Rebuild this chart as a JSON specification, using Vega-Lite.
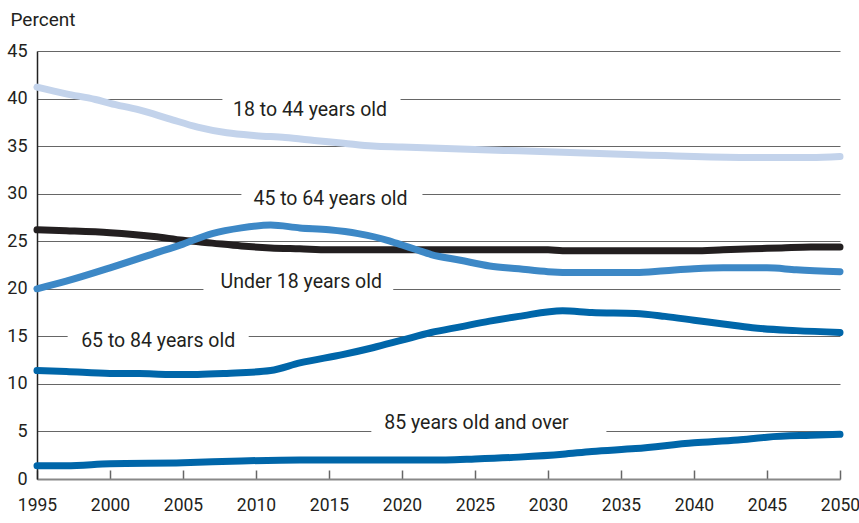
{
  "$schema": "https://vega.github.io/schema/vega-lite/v6.json",
  "width": 803,
  "height": 428,
  "autosize": {"type": "none"},
  "padding": {"left": 37, "top": 51, "right": 19, "bottom": 44},
  "background": "white",
  "config": {
    "view": {"stroke": null},
    "font": "Roboto, sans-serif"
  },
  "datasets": {
    "series": [
      {"year": 1995, "group": "18 to 44 years old", "value": 41.2},
      {"year": 1997, "group": "18 to 44 years old", "value": 40.5},
      {"year": 1999, "group": "18 to 44 years old", "value": 39.9},
      {"year": 2000, "group": "18 to 44 years old", "value": 39.5},
      {"year": 2002, "group": "18 to 44 years old", "value": 38.8},
      {"year": 2004, "group": "18 to 44 years old", "value": 37.9},
      {"year": 2006, "group": "18 to 44 years old", "value": 37.0},
      {"year": 2008, "group": "18 to 44 years old", "value": 36.4},
      {"year": 2010, "group": "18 to 44 years old", "value": 36.1},
      {"year": 2012, "group": "18 to 44 years old", "value": 35.9},
      {"year": 2014, "group": "18 to 44 years old", "value": 35.6},
      {"year": 2016, "group": "18 to 44 years old", "value": 35.3},
      {"year": 2018, "group": "18 to 44 years old", "value": 35.0},
      {"year": 2020, "group": "18 to 44 years old", "value": 34.9},
      {"year": 2022, "group": "18 to 44 years old", "value": 34.8},
      {"year": 2024, "group": "18 to 44 years old", "value": 34.7},
      {"year": 2026, "group": "18 to 44 years old", "value": 34.6},
      {"year": 2028, "group": "18 to 44 years old", "value": 34.5},
      {"year": 2030, "group": "18 to 44 years old", "value": 34.4},
      {"year": 2032, "group": "18 to 44 years old", "value": 34.3},
      {"year": 2034, "group": "18 to 44 years old", "value": 34.2},
      {"year": 2036, "group": "18 to 44 years old", "value": 34.1},
      {"year": 2038, "group": "18 to 44 years old", "value": 34.0},
      {"year": 2040, "group": "18 to 44 years old", "value": 33.9},
      {"year": 2044, "group": "18 to 44 years old", "value": 33.8},
      {"year": 2048, "group": "18 to 44 years old", "value": 33.8},
      {"year": 2050, "group": "18 to 44 years old", "value": 33.9},

      {"year": 1995, "group": "45 to 64 years old", "value": 26.2},
      {"year": 1997, "group": "45 to 64 years old", "value": 26.1},
      {"year": 2000, "group": "45 to 64 years old", "value": 25.9},
      {"year": 2003, "group": "45 to 64 years old", "value": 25.5},
      {"year": 2005, "group": "45 to 64 years old", "value": 25.1},
      {"year": 2007, "group": "45 to 64 years old", "value": 24.8},
      {"year": 2009, "group": "45 to 64 years old", "value": 24.5},
      {"year": 2011, "group": "45 to 64 years old", "value": 24.3},
      {"year": 2013, "group": "45 to 64 years old", "value": 24.2},
      {"year": 2015, "group": "45 to 64 years old", "value": 24.1},
      {"year": 2020, "group": "45 to 64 years old", "value": 24.1},
      {"year": 2025, "group": "45 to 64 years old", "value": 24.1},
      {"year": 2030, "group": "45 to 64 years old", "value": 24.1},
      {"year": 2031, "group": "45 to 64 years old", "value": 24.0},
      {"year": 2040, "group": "45 to 64 years old", "value": 24.0},
      {"year": 2042, "group": "45 to 64 years old", "value": 24.1},
      {"year": 2044, "group": "45 to 64 years old", "value": 24.2},
      {"year": 2046, "group": "45 to 64 years old", "value": 24.3},
      {"year": 2048, "group": "45 to 64 years old", "value": 24.4},
      {"year": 2050, "group": "45 to 64 years old", "value": 24.4},

      {"year": 1995, "group": "Under 18 years old", "value": 20.0},
      {"year": 1997, "group": "Under 18 years old", "value": 20.8},
      {"year": 2000, "group": "Under 18 years old", "value": 22.2},
      {"year": 2003, "group": "Under 18 years old", "value": 23.7},
      {"year": 2005, "group": "Under 18 years old", "value": 24.7},
      {"year": 2007, "group": "Under 18 years old", "value": 25.8},
      {"year": 2009, "group": "Under 18 years old", "value": 26.4},
      {"year": 2011, "group": "Under 18 years old", "value": 26.7},
      {"year": 2013, "group": "Under 18 years old", "value": 26.4},
      {"year": 2015, "group": "Under 18 years old", "value": 26.2},
      {"year": 2017, "group": "Under 18 years old", "value": 25.8},
      {"year": 2019, "group": "Under 18 years old", "value": 25.1},
      {"year": 2020, "group": "Under 18 years old", "value": 24.6},
      {"year": 2021, "group": "Under 18 years old", "value": 24.1},
      {"year": 2022, "group": "Under 18 years old", "value": 23.6},
      {"year": 2024, "group": "Under 18 years old", "value": 23.0},
      {"year": 2026, "group": "Under 18 years old", "value": 22.4},
      {"year": 2028, "group": "Under 18 years old", "value": 22.1},
      {"year": 2030, "group": "Under 18 years old", "value": 21.8},
      {"year": 2032, "group": "Under 18 years old", "value": 21.7},
      {"year": 2036, "group": "Under 18 years old", "value": 21.7},
      {"year": 2038, "group": "Under 18 years old", "value": 21.9},
      {"year": 2040, "group": "Under 18 years old", "value": 22.1},
      {"year": 2042, "group": "Under 18 years old", "value": 22.2},
      {"year": 2045, "group": "Under 18 years old", "value": 22.2},
      {"year": 2047, "group": "Under 18 years old", "value": 22.0},
      {"year": 2050, "group": "Under 18 years old", "value": 21.8},

      {"year": 1995, "group": "65 to 84 years old", "value": 11.4},
      {"year": 1997, "group": "65 to 84 years old", "value": 11.3},
      {"year": 2000, "group": "65 to 84 years old", "value": 11.1},
      {"year": 2002, "group": "65 to 84 years old", "value": 11.1},
      {"year": 2004, "group": "65 to 84 years old", "value": 11.0},
      {"year": 2006, "group": "65 to 84 years old", "value": 11.0},
      {"year": 2008, "group": "65 to 84 years old", "value": 11.1},
      {"year": 2011, "group": "65 to 84 years old", "value": 11.4},
      {"year": 2013, "group": "65 to 84 years old", "value": 12.2},
      {"year": 2016, "group": "65 to 84 years old", "value": 13.1},
      {"year": 2018, "group": "65 to 84 years old", "value": 13.8},
      {"year": 2020, "group": "65 to 84 years old", "value": 14.6},
      {"year": 2022, "group": "65 to 84 years old", "value": 15.4},
      {"year": 2024, "group": "65 to 84 years old", "value": 16.0},
      {"year": 2026, "group": "65 to 84 years old", "value": 16.6},
      {"year": 2028, "group": "65 to 84 years old", "value": 17.1},
      {"year": 2031, "group": "65 to 84 years old", "value": 17.7},
      {"year": 2033, "group": "65 to 84 years old", "value": 17.5},
      {"year": 2036, "group": "65 to 84 years old", "value": 17.4},
      {"year": 2038, "group": "65 to 84 years old", "value": 17.1},
      {"year": 2040, "group": "65 to 84 years old", "value": 16.7},
      {"year": 2042, "group": "65 to 84 years old", "value": 16.3},
      {"year": 2044, "group": "65 to 84 years old", "value": 15.9},
      {"year": 2047, "group": "65 to 84 years old", "value": 15.6},
      {"year": 2050, "group": "65 to 84 years old", "value": 15.4},

      {"year": 1995, "group": "85 years old and over", "value": 1.4},
      {"year": 1997, "group": "85 years old and over", "value": 1.4},
      {"year": 2000, "group": "85 years old and over", "value": 1.6},
      {"year": 2005, "group": "85 years old and over", "value": 1.7},
      {"year": 2009, "group": "85 years old and over", "value": 1.9},
      {"year": 2013, "group": "85 years old and over", "value": 2.0},
      {"year": 2020, "group": "85 years old and over", "value": 2.0},
      {"year": 2023, "group": "85 years old and over", "value": 2.0},
      {"year": 2025, "group": "85 years old and over", "value": 2.1},
      {"year": 2028, "group": "85 years old and over", "value": 2.3},
      {"year": 2031, "group": "85 years old and over", "value": 2.6},
      {"year": 2033, "group": "85 years old and over", "value": 2.9},
      {"year": 2036, "group": "85 years old and over", "value": 3.2},
      {"year": 2040, "group": "85 years old and over", "value": 3.8},
      {"year": 2043, "group": "85 years old and over", "value": 4.1},
      {"year": 2045, "group": "85 years old and over", "value": 4.4},
      {"year": 2048, "group": "85 years old and over", "value": 4.6},
      {"year": 2050, "group": "85 years old and over", "value": 4.7}
    ],
    "labels": [
      {"label": "18 to 44 years old", "year": 2013.7, "value": 38.75, "grid": 40, "gapFrom": 2007.7, "gapTo": 2019.9},
      {"label": "45 to 64 years old", "year": 2015.1, "value": 29.4, "grid": 30, "gapFrom": 2009.0, "gapTo": 2021.4},
      {"label": "Under 18 years old", "year": 2013.1, "value": 20.75, "grid": 20, "gapFrom": 2006.4, "gapTo": 2019.4},
      {"label": "65 to 84 years old", "year": 2003.3, "value": 14.5, "grid": 15, "gapFrom": 1997.1, "gapTo": 2009.5},
      {"label": "85 years old and over", "year": 2025.1, "value": 5.9, "grid": 5, "gapFrom": 2017.9, "gapTo": 2034.0}
    ]
  },
  "layer": [
    {
      "data": {"name": "labels"},
      "mark": {"type": "rule", "color": "white", "strokeWidth": 4},
      "encoding": {
        "x": {"field": "gapFrom", "type": "quantitative", "scale": {"domain": [1995, 2050], "nice": false}},
        "x2": {"field": "gapTo"},
        "y": {"field": "grid", "type": "quantitative", "scale": {"domain": [0, 45], "nice": false}}
      }
    },
    {
      "mark": {"type": "rule", "color": "#222222", "strokeWidth": 1.5},
      "encoding": {"x": {"datum": 2050, "type": "quantitative"}}
    },
    {
      "data": {"name": "series"},
      "mark": {"type": "line", "strokeWidth": 7, "strokeCap": "round", "strokeJoin": "round", "interpolate": "monotone"},
      "encoding": {
        "x": {
          "field": "year", "type": "quantitative",
          "scale": {"domain": [1995, 2050], "nice": false},
          "axis": {
            "title": null, "values": [1995, 2000, 2005, 2010, 2015, 2020, 2025, 2030, 2035, 2040, 2045, 2050],
            "format": "d", "grid": false, "tickSize": -9, "tickColor": "#666666", "tickWidth": 1.5,
            "domainColor": "#888888", "domainWidth": 2, "labelPadding": 26, "labelFontSize": 17.5,
            "labelColor": "#231f20", "labelFlush": false
          }
        },
        "y": {
          "field": "value", "type": "quantitative",
          "scale": {"domain": [0, 45], "nice": false},
          "axis": {
            "title": "Percent", "values": [0, 5, 10, 15, 20, 25, 30, 35, 40, 45],
            "grid": true, "gridColor": "#666666", "gridWidth": 1, "ticks": false,
            "domainColor": "#222222", "domainWidth": 1.5, "labelPadding": 10, "labelFontSize": 18,
            "labelColor": "#231f20", "titleAngle": 0, "titleAlign": "left", "titleBaseline": "alphabetic",
            "titleX": -27, "titleY": -26, "titleFontSize": 19, "titleFontWeight": "normal", "titleColor": "#231f20"
          }
        },
        "color": {
          "field": "group", "type": "nominal", "legend": null,
          "scale": {
            "domain": ["18 to 44 years old", "45 to 64 years old", "Under 18 years old", "65 to 84 years old", "85 years old and over"],
            "range": ["#c3d3eb", "#231f20", "#3d88c6", "#0066a9", "#0066a9"]
          }
        },
        "detail": {"field": "group"}
      }
    },
    {
      "data": {"name": "labels"},
      "mark": {"type": "text", "fontSize": 19.5, "color": "#231f20", "align": "center", "baseline": "middle"},
      "encoding": {
        "x": {"field": "year", "type": "quantitative"},
        "y": {"field": "value", "type": "quantitative"},
        "text": {"field": "label"}
      }
    }
  ]
}
